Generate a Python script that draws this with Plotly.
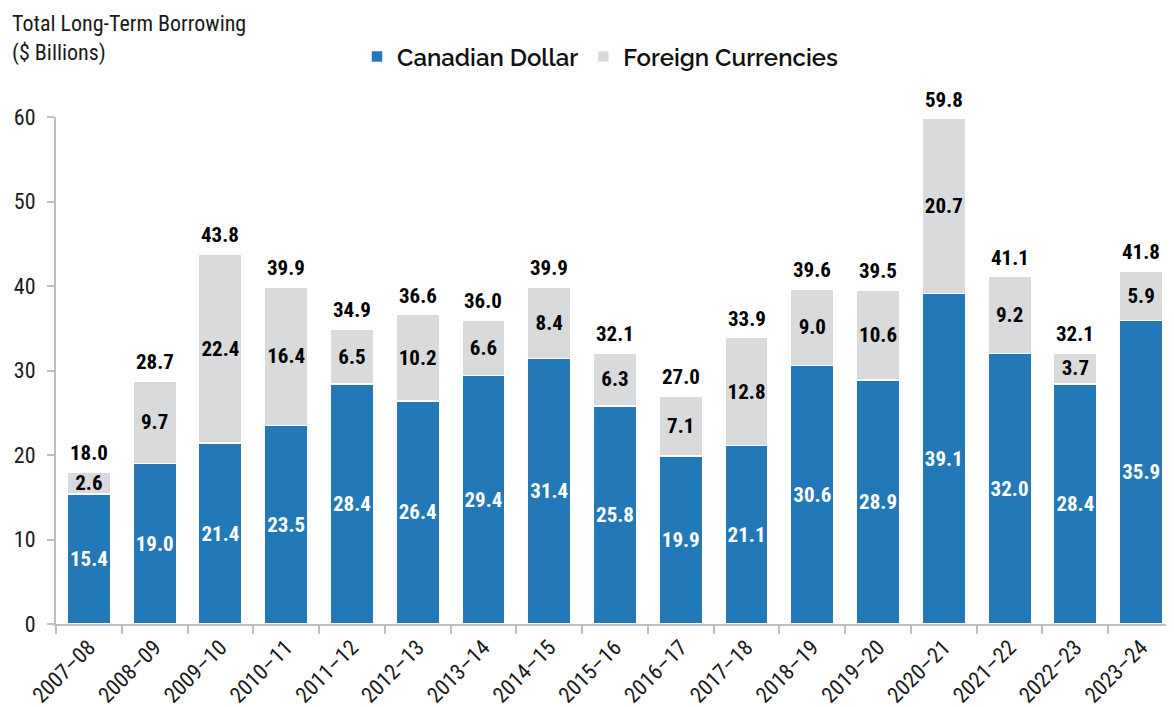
import plotly.graph_objects as go

years = ["2007–08", "2008–09", "2009–10", "2010–11", "2011–12", "2012–13", "2013–14",
         "2014–15", "2015–16", "2016–17", "2017–18", "2018–19", "2019–20", "2020–21",
         "2021–22", "2022–23", "2023–24"]
cad = [15.4, 19.0, 21.4, 23.5, 28.4, 26.4, 29.4, 31.4, 25.8, 19.9, 21.1, 30.6, 28.9, 39.1, 32.0, 28.4, 35.9]
foreign = [2.6, 9.7, 22.4, 16.4, 6.5, 10.2, 6.6, 8.4, 6.3, 7.1, 12.8, 9.0, 10.6, 20.7, 9.2, 3.7, 5.9]
totals = [18.0, 28.7, 43.8, 39.9, 34.9, 36.6, 36.0, 39.9, 32.1, 27.0, 33.9, 39.6, 39.5, 59.8, 41.1, 32.1, 41.8]
y_ticks = [0, 10, 20, 30, 40, 50, 60]

BLUE = "#2378B8"
GRAY = "#D9DADC"
NARROW = "Roboto Condensed, Liberation Sans Narrow, sans-serif"
LEGEND_FONT = "Raleway, Lato, sans-serif"

# The page body adds an 8px offset; size the figure so it fills the 1174x707 window.
W, H = 1166, 699
ML, MT, MB, MR = 48, 109, 83, 0
PW, PH = W - ML - MR, H - MT - MB

fig = go.Figure()
fig.add_trace(go.Bar(
    x=years, y=cad, name="Canadian Dollar",
    marker=dict(color=BLUE, line=dict(color="white", width=1.5)),
    text=[f"{v:.1f}" for v in cad], textposition="inside", insidetextanchor="middle",
    textangle=0, constraintext="none",
    insidetextfont=dict(family=NARROW, size=21, color="white", weight="bold"),
    hoverinfo="skip",
))
fig.add_trace(go.Bar(
    x=years, y=foreign, name="Foreign Currencies",
    marker=dict(color=GRAY, line=dict(color="white", width=1.5)),
    text=[f"{v:.1f}" for v in foreign], textposition="inside", insidetextanchor="middle",
    textangle=0, constraintext="none",
    insidetextfont=dict(family=NARROW, size=21, color="black", weight="bold"),
    hoverinfo="skip",
))

for yr, t in zip(years, totals):
    fig.add_annotation(
        x=yr, y=t, xref="x", yref="y", text=f"{t:.1f}", showarrow=False,
        yanchor="bottom", yshift=5,
        font=dict(family=NARROW, size=21, color="black", weight="bold"),
    )

# Axis title (top-left)
fig.add_annotation(
    text="Total Long-Term Borrowing<br>($ Billions)",
    xref="paper", yref="paper", x=-(ML - 2) / PW, y=1 + (MT - 1) / PH,
    xanchor="left", yanchor="top", align="left", showarrow=False,
    font=dict(family=NARROW, size=22, color="#1a1a1a"),
)

fig.update_layout(
    width=W, height=H,
    barmode="stack", bargap=0.34,
    plot_bgcolor="white", paper_bgcolor="white",
    margin=dict(l=ML, r=MR, t=MT, b=MB, autoexpand=False),
    legend=dict(
        orientation="h", traceorder="normal",
        x=(600 - 8) / W, xanchor="center", xref="container",
        y=1 - 49 / H, yanchor="middle", yref="container",
        font=dict(family=LEGEND_FONT, size=24, color="#111", weight=600),
        itemclick=False, itemdoubleclick=False, itemwidth=30,
    ),
    showlegend=True,
)

fig.update_xaxes(
    type="category", automargin=False,
    showline=True, linecolor="#BFBFBF", linewidth=2,
    ticks="outside", tickson="boundaries", ticklen=8, tickcolor="#BFBFBF", tickwidth=2,
    tickangle=-45,
    tickfont=dict(family=NARROW, size=22, color="#1a1a1a"),
    showgrid=False,
)
fig.update_yaxes(
    range=[0, 60], tickvals=y_ticks, automargin=False,
    showline=True, linecolor="#BFBFBF", linewidth=2,
    ticks="outside", ticklen=7, tickcolor="#BFBFBF", tickwidth=2,
    ticklabelstandoff=7,
    tickfont=dict(family=NARROW, size=22, color="#1a1a1a"),
    showgrid=False, zeroline=False,
)

fig.write_html("out.html")
